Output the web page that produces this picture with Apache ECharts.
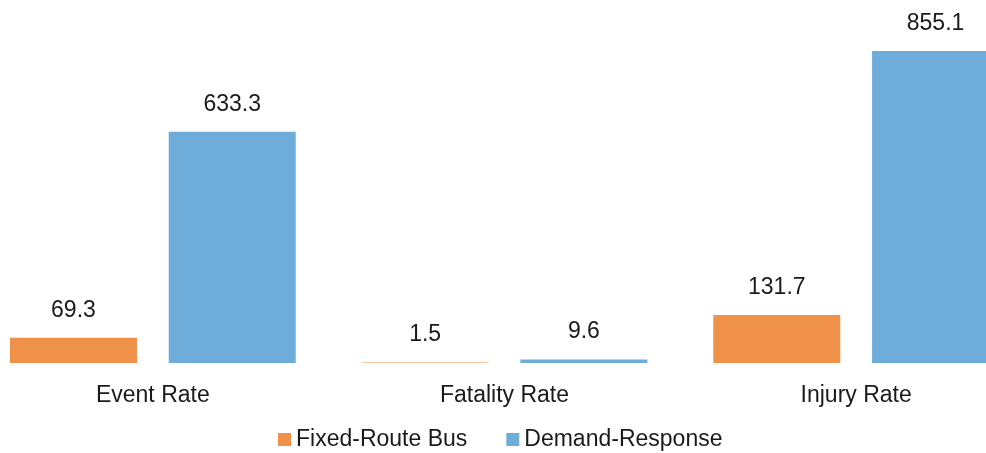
<!DOCTYPE html>
<html>
<head>
<meta charset="utf-8">
<script src="https://cdn.jsdelivr.net/npm/echarts@6/dist/echarts.min.js"></script>
<style>html,body{margin:0;padding:0;background:#fff;overflow:hidden;width:986px;height:453px;position:relative}#c{position:absolute;left:-23px;top:0;width:1055px;height:453px}</style>
</head>
<body>
<div id="c"></div>
<script>
const categories = ['Event Rate', 'Fatality Rate', 'Injury Rate'];
const fixedRouteBus = [69.3, 1.5, 131.7];
const demandResponse = [633.3, 9.6, 855.1];
const seriesNames = ['Fixed-Route Bus', 'Demand-Response'];

const chart = echarts.init(document.getElementById('c'));
const font = 'Liberation Sans, Arial, sans-serif';
const txt = '#1a1a1a';
const label = {show: true, position: 'top', distance: 16, fontSize: 23, color: txt, fontFamily: font, formatter: p => p.value.toFixed(1)};
chart.setOption({
  animation: false,
  grid: {left: 0, right: 0, top: 34.5, bottom: 90, containLabel: false},
  legend: {
    top: 428, left: 301, padding: 0, itemWidth: 13, itemHeight: 13, itemGap: 39,
    icon: 'rect',
    textStyle: {fontSize: 23, color: txt, fontFamily: font},
    data: seriesNames
  },
  xAxis: {
    type: 'category', data: categories,
    axisLine: {show: false}, axisTick: {show: false},
    axisLabel: {fontSize: 23, color: txt, fontFamily: font, margin: 21}
  },
  yAxis: {type: 'value', min: 0, max: 900, show: false, splitLine: {show: false}},
  series: [
    {name: seriesNames[0], type: 'bar', data: fixedRouteBus, barWidth: 127, barGap: '25%', itemStyle: {color: '#F0914A'}, label},
    {name: seriesNames[1], type: 'bar', data: demandResponse, barWidth: 127, barGap: '25%', itemStyle: {color: '#6EACD9'}, label}
  ]
});
</script>
</body>
</html>
